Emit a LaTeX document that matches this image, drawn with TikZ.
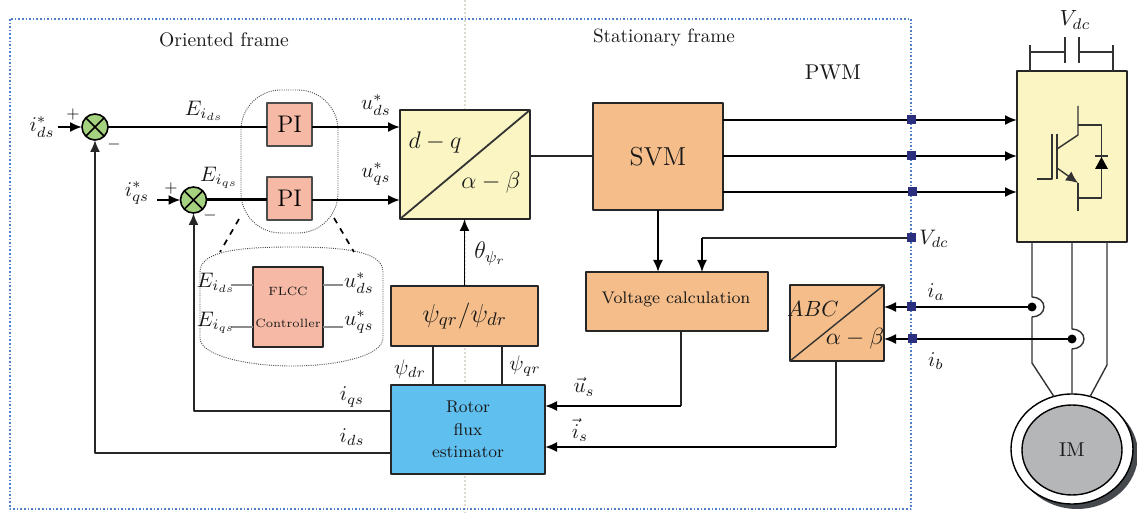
\documentclass[tikz,border=0pt]{standalone}
\usepackage{fix-cm}
\usepackage{amsmath,amssymb}
\usepackage{xcolor}
\usetikzlibrary{arrows.meta,shapes.geometric}
\definecolor{piskin}{RGB}{245,185,165}
\definecolor{boxorange}{RGB}{244,189,137}
\definecolor{boxyellow}{RGB}{250,245,194}
\definecolor{boxblue}{RGB}{95,191,239}
\definecolor{sumgreen}{RGB}{165,210,127}
\definecolor{portnavy}{RGB}{43,47,126}
\definecolor{framedot}{RGB}{79,127,200}
\definecolor{midline}{RGB}{222,218,208}
\definecolor{motorgray}{RGB}{180,182,184}
\definecolor{motordark}{RGB}{69,73,77}
\tikzset{
  lab/.style={font=\fontsize{10.5}{12}\selectfont,inner sep=0pt,text=black!90},
  sumnode/.style={circle,draw=black,line width=0.8pt,fill=sumgreen,minimum size=13pt,inner sep=0pt,outer sep=0pt},
  pibox/.style={rectangle,draw=black!70,line width=0.6pt,fill=piskin,inner sep=0pt,outer sep=0pt,minimum width=22.5pt,minimum height=21.5pt,font=\fontsize{12}{14}\selectfont},
  blockbox/.style={rectangle,draw=black!85,line width=0.7pt,inner sep=0pt,outer sep=0pt},
  port/.style={rectangle,fill=portnavy,inner sep=0pt,outer sep=0pt,minimum size=4.5pt},
  dot/.style={circle,fill=black,inner sep=0pt,outer sep=0pt,minimum size=4.5pt},
  sig/.style={line width=0.95pt,black,-{Latex[length=6pt,width=5pt]}},
  wire/.style={line width=0.8pt,black!85},
  thinwire/.style={line width=0.7pt,black!80},
  grayline/.style={line width=0.8pt,black!45},
  groupline/.style={dash pattern=on 0.5pt off 0.6pt,line width=0.45pt,black!70},
}
\begin{document}
\begin{tikzpicture}[x=0.5pt,y=-0.5pt,line join=round]
  \useasboundingbox (0,0) rectangle (1137,513);
  \draw[midline,line width=1pt,densely dotted] (465,0) -- (465,513);
  \draw[framedot,line width=0.8pt,densely dotted] (10,19) rectangle (911,509);
  \node[lab,font=\fontsize{9.8}{12}\selectfont] (oriented) at (224,40) {Oriented frame};
  \node[lab,font=\fontsize{9.6}{12}\selectfont] (stationary) at (664,38) {Stationary frame};
  \node[lab,font=\fontsize{10.7}{12}\selectfont] (pwmlabel) at (833,72) {PWM};
  % current controllers
  \node[groupline,draw,rounded corners=20pt,minimum width=48.5pt,minimum height=71.5pt,inner sep=0pt] (pigroup) at (289.5,161.5) {};
  \node[sumnode] (sumd) at (95,127) {};
  \node[sumnode] (sumq) at (193.5,200) {};
  \draw[line width=0.8pt] (sumd.45) -- (sumd.225) (sumd.135) -- (sumd.315);
  \draw[line width=0.8pt] (sumq.45) -- (sumq.225) (sumq.135) -- (sumq.315);
  \node[pibox] (pid) at (289.5,124.5) {PI};
  \node[pibox] (piq) at (289.5,198.5) {PI};
  \node[blockbox,fill=boxyellow,minimum width=65pt,minimum height=54.5pt] (dqab) at (465,164.5) {};
  \draw[thinwire,line width=0.9pt] (dqab.south west) -- (dqab.north east);
  \node[lab,font=\fontsize{12}{14}\selectfont] (dqtext) at (435,143) {$d-q$};
  \node[lab,font=\fontsize{12}{14}\selectfont] (abtext) at (491,183) {$\alpha-\beta$};
  \node[lab] (refd) at (42,127) {$i_{ds}^{*}$};
  \node[lab] (refq) at (137,193) {$i_{qs}^{*}$};
  \coordinate (refdend) at (58,127);
  \coordinate (refqend) at (157,200);
  \node[lab,font=\fontsize{8}{9}\selectfont] (plusd) at (73,115) {$+$};
  \node[lab,font=\fontsize{8}{9}\selectfont] (minusd) at (114,145) {$-$};
  \node[lab,font=\fontsize{8}{9}\selectfont] (plusq) at (171,189) {$+$};
  \node[lab,font=\fontsize{8}{9}\selectfont] (minusq) at (210,216) {$-$};
  \node[lab] (errd) at (204,111) {$E_{i_{ds}}$};
  \node[lab] (errq) at (219,178) {$E_{i_{qs}}$};
  \node[lab] (ucmdd) at (376,105) {$u_{ds}^{*}$};
  \node[lab] (ucmdq) at (376,174) {$u_{qs}^{*}$};
  \draw[sig] (refdend) -- (sumd);
  \draw[sig] (refqend) -- (sumq);
  \draw[line width=1.15pt] (sumd) -- (sumd -| pid.west);
  \draw[line width=1.5pt] (sumq) -- (sumq -| piq.west);
  \draw[sig] (pid.east |- sumd) -- (sumd -| dqab.west);
  \draw[sig] (piq.east |- sumq) -- (sumq -| dqab.west);
  % zoomed controller
  \draw[groupline] (200,272) .. controls (200,252) and (235,247) .. (292,247) .. controls (348,247) and (383,252) .. (383,272)
    -- (383,338) .. controls (383,355) and (340,366) .. (292,366) .. controls (245,366) and (200,355) .. (200,338) -- cycle;
  \coordinate (zoomla) at (239,219);
  \coordinate (zoomlb) at (220,252);
  \coordinate (zoomra) at (334,218);
  \coordinate (zoomrb) at (354,252);
  \draw[dashed,line width=0.85pt] (zoomla) -- (zoomlb);
  \draw[dashed,line width=0.85pt] (zoomra) -- (zoomrb);
  \node[blockbox,fill=piskin,minimum width=35pt,minimum height=40pt,align=center,font=\fontsize{6}{16}\selectfont,text=black!90] (flcc) at (288,307) {FLCC\\Controller};
  \coordinate (flcclu) at (231,285);
  \coordinate (flccll) at (231,327);
  \coordinate (flccru) at (343,285);
  \coordinate (flccrl) at (343,327);
  \draw[grayline] (flcclu) -- (flcclu -| flcc.west);
  \draw[grayline] (flccll) -- (flccll -| flcc.west);
  \draw[grayline] (flccru) -- (flccru -| flcc.east);
  \draw[grayline] (flccrl) -- (flccrl -| flcc.east);
  \node[lab] (zerrd) at (216,283) {$E_{i_{ds}}$};
  \node[lab] (zerrq) at (216,323) {$E_{i_{qs}}$};
  \node[lab] (zucmdd) at (359,283) {$u_{ds}^{*}$};
  \node[lab] (zucmdq) at (359,322) {$u_{qs}^{*}$};
  % estimator
  \node[blockbox,fill=boxorange,minimum width=73.5pt,minimum height=30pt,font=\fontsize{13}{15}\selectfont,text=black!90] (angle) at (464.5,316) {$\psi_{qr}/\psi_{dr}$};
  \node[blockbox,fill=boxblue,minimum width=77pt,minimum height=44.5pt,align=center,font=\fontsize{8.5}{11.3}\selectfont,text=black!90] (estim) at (468,429.5) {Rotor\\flux\\estimator};
  \draw[sig] (angle.north) -- (angle.north |- dqab.south);
  \node[lab,font=\fontsize{12}{14}\selectfont] (thetalabel) at (490,254) {$\theta_{\psi_{r}}$};
  \coordinate (psidtop) at (433,346);
  \coordinate (psiqtop) at (502,346);
  \draw[wire] (psidtop) -- (psidtop |- estim.north);
  \draw[wire] (psiqtop) -- (psiqtop |- estim.north);
  \node[lab] (psid) at (410,369) {$\psi_{dr}$};
  \node[lab] (psiq) at (525,366) {$\psi_{qr}$};
  \coordinate (iqout) at (391,411);
  \coordinate (idout) at (391,453);
  \draw[wire,line width=1pt,-{Latex[length=6pt,width=5pt]}] (iqout) -| (sumq);
  \draw[wire,line width=1pt,-{Latex[length=6pt,width=5pt]}] (idout) -| (sumd);
  \node[lab] (iqlabel) at (352,397) {$i_{qs}$};
  \node[lab] (idlabel) at (352,437) {$i_{ds}$};
  % modulator and voltage
  \node[blockbox,fill=boxorange,minimum width=65pt,minimum height=53.5pt,font=\fontsize{13}{15}\selectfont,text=black!90] (svm) at (658,156.5) {SVM};
  \node[blockbox,fill=boxorange,minimum width=91pt,minimum height=29.5pt] (volt) at (677,301.5) {};
  \node[lab,font=\fontsize{8.4}{11}\selectfont] (volttext) at (676,299) {Voltage calculation};
  \draw[wire,line width=1pt] (dqab.east |- svm) -- (svm);
  \draw[sig] (svm.south) -- (volt.north -| svm.south);
  % inverter
  \node[blockbox,fill=boxyellow,minimum width=55pt,minimum height=85.5pt] (inv) at (1072,156.5) {};
  \coordinate (svma) at (723,120);
  \coordinate (svmb) at (723,156);
  \coordinate (svmc) at (723,192);
  \draw[sig] (svma) -- (svma -| inv.west);
  \draw[sig] (svmb) -- (svmb -| inv.west);
  \draw[sig] (svmc) -- (svmc -| inv.west);
  \node[port] (porta) at (911,120) {};
  \node[port] (portb) at (911,156) {};
  \node[port] (portc) at (912,192) {};
  \node[port] (portv) at (911,238) {};
  \coordinate (vbend) at (702,238);
  \draw[wire] (portv) -- (vbend);
  \draw[sig,line width=0.8pt] (vbend) -- (vbend |- volt.north);
  \node[lab] (vdcport) at (934,239) {$V_{dc}$};
  % capacitor
  \node[lab,font=\fontsize{11}{13}\selectfont] (vdctop) at (1075,20) {$V_{dc}$};
  \coordinate (capl) at (1030,52);
  \coordinate (capr) at (1113,52);
  \draw[thinwire] (1030,71) -- (1030,45);
  \draw[thinwire] (capl) -- (1065,52);
  \draw[thinwire,line width=0.8pt] (1065,37) -- (1065,63);
  \draw[thinwire,line width=0.8pt] (1079,37) -- (1079,63);
  \draw[thinwire] (1079,52) -- (capr);
  \draw[thinwire] (1113,71) -- (1113,45);
  % igbt
  \draw[thinwire] (1078,106) -- (1078,135) -- (1057,149);
  \draw[thinwire] (1057,134) -- (1057,179);
  \draw[thinwire] (1052,134) -- (1052,179) -- (1037,179);
  \draw[thinwire,-{Latex[length=6pt,width=5.5pt]}] (1057,168) -- (1078,183);
  \draw[thinwire] (1078,183) -- (1078,211);
  \draw[thinwire] (1078,125) -- (1101.5,125) -- (1101.5,198) -- (1078,198);
  \fill (1101.5,157) -- (1108,169) -- (1095,169) -- cycle;
  \draw[thinwire] (1095,156) -- (1108,156);
  % motor
  \coordinate (wirea) at (1032,242);
  \coordinate (wireb) at (1072,242);
  \coordinate (wirec) at (1107,242);
  \fill[motordark] (1077,454) ellipse (61 and 55);
  \node[ellipse,draw=black,line width=0.7pt,fill=white,minimum width=61pt,minimum height=55pt,inner sep=0pt,outer sep=0pt] (imout) at (1072,449) {};
  \node[ellipse,draw=black,line width=0.7pt,fill=motorgray,minimum width=50pt,minimum height=45pt,inner sep=0pt,font=\fontsize{10}{12}\selectfont,text=black!90] (imin) at (1072,450) {IM};
  \draw[thinwire] (wirea) -- (1032,297) arc (-90:90:12 and 10) -- (1032,363) -- (imout.109);
  \draw[thinwire] (wireb) -- (1072,329) arc (-90:90:12 and 10) -- (imout.north);
  \draw[thinwire] (wirec) -- (1107,365) -- (imout.71);
  % current sensing
  \node[blockbox,fill=boxorange,minimum width=47pt,minimum height=38pt] (abc) at (837,323) {};
  \draw[thinwire] (abc.south west) -- (abc.north east);
  \node[lab,font=\fontsize{11}{13}\selectfont] (abctext) at (813,309) {$ABC$};
  \node[lab,font=\fontsize{11.7}{13}\selectfont] (abtexttwo) at (855,339) {$\alpha-\beta$};
  \node[dot] (dota) at (1032,307) {};
  \node[dot] (dotb) at (1072,339) {};
  \draw[sig,line width=0.8pt] (dota) -- (dota -| abc.east);
  \draw[sig,line width=0.8pt] (dotb) -- (dotb -| abc.east);
  \node[port] (porti) at (911,307) {};
  \node[port] (portj) at (912,339) {};
  \node[lab] (ialabel) at (936,292) {$i_{a}$};
  \node[lab] (iblabel) at (936,361) {$i_{b}$};
  \coordinate (usbend) at (681,406);
  \coordinate (isbend) at (836,447);
  \draw[wire] (usbend |- volt.south) -- (usbend);
  \draw[sig] (usbend) -- (usbend -| estim.east);
  \draw[wire] (abc.south -| isbend) -- (isbend);
  \draw[sig] (isbend) -- (isbend -| estim.east);
  \node[lab] (uslabel) at (584,387) {$\vec{u}_{s}$};
  \node[lab] (islabel) at (580,430) {$\vec{i}_{s}$};
\end{tikzpicture}
\end{document}
